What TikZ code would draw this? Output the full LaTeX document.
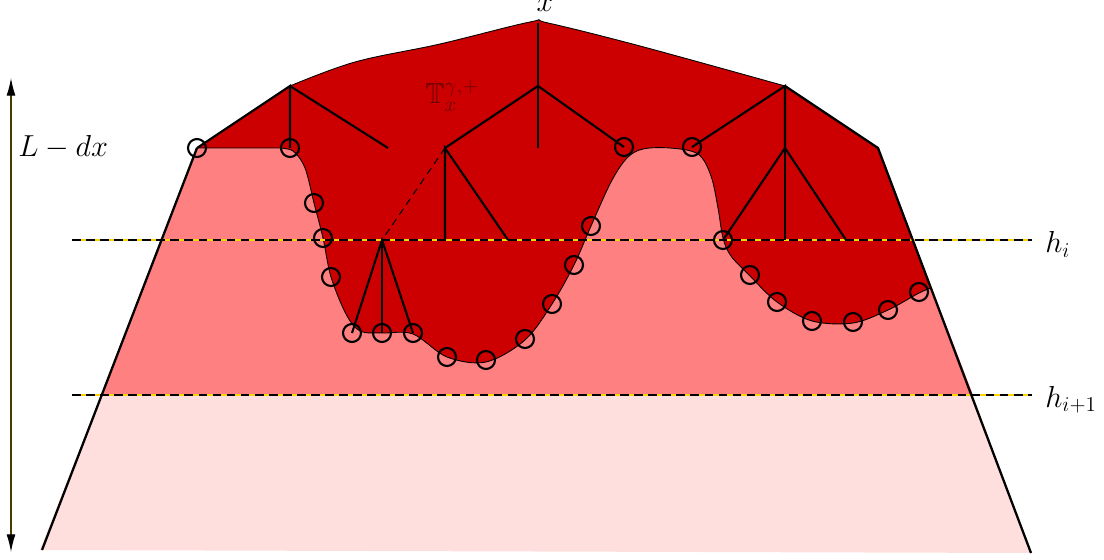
\documentclass[tikz,border=0pt]{standalone}
\usepackage{amssymb}
\usetikzlibrary{arrows.meta}
\definecolor{darkred}{RGB}{204,0,0}
\definecolor{midpink}{RGB}{255,128,128}
\definecolor{lightpink}{RGB}{255,222,222}
\definecolor{gold}{RGB}{255,215,0}
\definecolor{labelred}{RGB}{110,0,0}
\definecolor{axiscol}{RGB}{70,60,0}
\tikzset{
  pt/.style={circle, draw, line width=1.2pt, minimum size=0.36cm, inner sep=0pt},
  edge/.style={line width=1.2pt},
  bord/.style={line width=1.3pt},
  lvlbase/.style={gold, line width=0.6pt},
  lvl/.style={black, line width=0.6pt, dash pattern=on 5pt off 3pt},
  lab/.style={inner sep=0pt, font=\fontsize{16.5}{20}\selectfont},
}
\begin{document}
\begin{tikzpicture}[x=0.02cm, y=-0.02cm]
\useasboundingbox (0,0) rectangle (1104,560);
% fills
\fill[midpink] (197,148) -- (878,148) -- (973,395) -- (101,395) -- cycle;
\fill[lightpink] (101,395) -- (973,395) -- (1031,553) -- (40,550) -- cycle;
% dark region
\filldraw[fill=darkred, draw=black, line width=0.5pt]
  (197,148) -- (290,86)
  -- plot[smooth, tension=0.6] coordinates {(290,86) (355,62) (440,44) (530,22) (548,23) (640,46) (785,86)}
  -- (878,148) -- (931,288)
  -- plot[smooth, tension=0.55] coordinates {(931,288) (919,293) (888,310) (853,323) (812,321) (777,302) (750,276) (731,256) (723,238) (718,208) (711,176) (698,154) (670,148) (643,149) (627,158) (611,182) (591,226) (574,265) (552,304) (525,340) (486,362) (447,357) (413,334) (382,333) (360,331) (346,314) (331,277) (323,238) (314,203) (305,168) (293,151) (278,148)}
  -- cycle;
% level lines
\coordinate (hiL) at (72,240);   \coordinate (hiR) at (1032,240);
\coordinate (hjL) at (72,395);   \coordinate (hjR) at (1032,395);
\draw[lvlbase] (hiL) -- (hiR);
\draw[lvl] (hiL) -- (hiR);
\draw[lvlbase] (hjL) -- (hjR);
\draw[lvl] (hjL) -- (hjR);
% circles
\node[pt] (c1) at (197,148) {};
\node[pt] (c2) at (290,148) {};
\node[pt] (c3) at (314,203) {};
\node[pt] (c4) at (323,238) {};
\node[pt] (c5) at (331,277) {};
\node[pt] (c6) at (352,333) {};
\node[pt] (c7) at (382,333) {};
\node[pt] (c8) at (413,333) {};
\node[pt] (c9) at (447,357) {};
\node[pt] (c10) at (486,360) {};
\node[pt] (c11) at (525,339) {};
\node[pt] (c12) at (552,304) {};
\node[pt] (c13) at (574,265) {};
\node[pt] (c14) at (591,226) {};
\node[pt] (c15) at (624,147) {};
\node[pt] (c16) at (692,147) {};
\node[pt] (c17) at (723,240) {};
\node[pt] (c18) at (750,275) {};
\node[pt] (c19) at (777,302) {};
\node[pt] (c20) at (812,321) {};
\node[pt] (c21) at (853,322) {};
\node[pt] (c22) at (888,310) {};
\node[pt] (c23) at (919,292) {};
% tree coordinates
\coordinate (t1) at (290,86);
\coordinate (e1) at (388,148);
\coordinate (r) at (538,23);
\coordinate (n2) at (538,86);
\coordinate (e2) at (538,148);
\coordinate (n3) at (445,148);
\coordinate (e3) at (445,240);
\coordinate (e4) at (508,240);
\coordinate (n4) at (382,240);
\coordinate (t3) at (785,86);
\coordinate (n5) at (785,148);
\coordinate (e5) at (785,240);
\coordinate (e6) at (846,240);
% trees
\draw[edge] (c1.center) -- (t1) -- (c2.center);
\draw[edge] (t1) -- (e1);
\draw[edge] (r) -- (n2) -- (e2);
\draw[edge] (n3) -- (n2) -- (c15.center);
\draw[edge] (e3) -- (n3) -- (e4);
\draw[line width=0.6pt, dash pattern=on 4pt off 3pt] (n3) -- (n4);
\draw[edge] (c6.center) -- (n4) -- (c8.center);
\draw[edge] (n4) -- (c7.center);
\draw[edge] (c16.center) -- (t3) -- (n5);
\draw[edge] (c17.center) -- (n5) -- (e6);
\draw[edge] (n5) -- (e5);
% trapezoid outline
\coordinate (bl) at (42,550);
\coordinate (br) at (1031,553);
\coordinate (tr) at (878,148);
\draw[bord] (bl) -- (c1.center);
\draw[bord] (t3) -- (tr) -- (br);
% vertical arrow
\coordinate (at) at (11,78);
\coordinate (ab) at (11,552);
\draw[axiscol, line width=0.6pt, {Latex[length=10pt,width=5pt,black]}-{Latex[length=10pt,width=5pt,black]}] (at) -- (ab);
% labels
\node[lab, anchor=base] (xl) at (545,12) {$x$};
\node[lab, anchor=base west] (ll) at (18,157) {$L-dx$};
\node[lab, anchor=base west] (hl) at (1045,253) {$h_i$};
\node[lab, anchor=base west] (hl2) at (1045,407) {$h_{i+1}$};
\node[lab, anchor=base west, text=labelred] (tl) at (425,104) {$\mathbb{T}_x^{\gamma,+}$};
\end{tikzpicture}
\end{document}
